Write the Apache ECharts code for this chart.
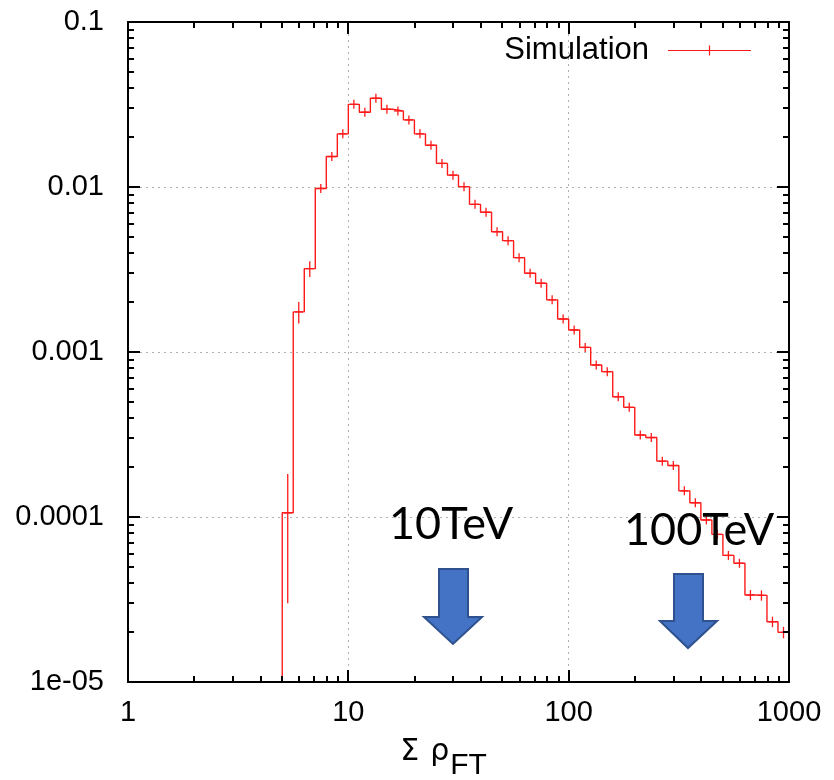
<!DOCTYPE html>
<html>
<head>
<meta charset="utf-8">
<script src="https://cdn.jsdelivr.net/npm/echarts@6/dist/echarts.min.js"></script>
<style>html,body{margin:0;padding:0;background:#fff}#c{width:834px;height:780px}</style>
</head>
<body>
<div id="c"></div>
<script>
// Histogram bin edges (log-spaced, 20 per decade)
const binEdges = [5.012, 5.623, 6.310, 7.079, 7.943, 8.913, 10, 11.22, 12.59, 14.13, 15.85, 17.78,
  19.95, 22.39, 25.12, 28.18, 31.62, 35.48, 39.81, 44.67, 50.12, 56.23, 63.10, 70.79, 79.43, 89.13,
  100, 112.2, 125.9, 141.3, 158.5, 177.8, 199.5, 223.9, 251.2, 281.8, 316.2, 354.8, 398.1, 446.7,
  501.2, 562.3, 631.0, 707.9, 794.3, 891.3, 1000];
// Bin contents
const simValues = [1.06e-4, 1.75e-3, 3.2e-3, 9.8e-3, 0.0153, 0.0210, 0.0317, 0.0284, 0.0345, 0.0296,
  0.0289, 0.0255, 0.0210, 0.0179, 0.0139, 0.0118, 0.01005, 7.85e-3, 7.03e-3, 5.36e-3, 4.73e-3,
  3.73e-3, 3.0e-3, 2.61e-3, 2.07e-3, 1.585e-3, 1.36e-3, 1.066e-3, 8.34e-4, 7.6e-4, 5.36e-4,
  4.62e-4, 3.14e-4, 3.03e-4, 2.18e-4, 2.05e-4, 1.44e-4, 1.22e-4, 9.6e-5, 7.85e-5, 5.85e-5,
  5.24e-5, 3.37e-5, 3.35e-5, 2.32e-5, 2.0e-5];
// Error bars (absolute)
const simErrors = [7.6e-5, 2.6e-4, 3.5e-4, 6e-4, 8e-4, 1e-3, 1.3e-3, 1.2e-3, 1.4e-3, 1.2e-3,
  1.1e-3, 1.0e-3, 8e-4, 7e-4, 5.5e-4, 4.7e-4, 4e-4, 3.1e-4, 2.8e-4, 2.2e-4, 1.9e-4,
  1.5e-4, 1.2e-4, 1.05e-4, 8.5e-5, 6.5e-5, 5.6e-5, 4.5e-5, 3.5e-5, 3.2e-5, 2.3e-5,
  2.0e-5, 1.4e-5, 1.35e-5, 1.0e-5, 9.5e-6, 7e-6, 6e-6, 5e-6, 4.5e-6, 3.5e-6,
  3.0e-6, 2.4e-6, 2.4e-6, 1.7e-6, 1.6e-6];
// Axis tick values
const xTickLabels = ['1', '10', '100', '1000'];
const yTickLabels = ['1e-05', '0.0001', '0.001', '0.01', '0.1'];
const xMajorTicks = [1, 10, 100, 1000];
const xMinorTicks = [2, 3, 4, 5, 6, 7, 8, 9, 20, 30, 40, 50, 60, 70, 80, 90,
  200, 300, 400, 500, 600, 700, 800, 900];
const yMajorTicks = [1e-5, 1e-4, 1e-3, 1e-2, 0.1];
const yMinorTicks = [2e-5, 3e-5, 4e-5, 5e-5, 6e-5, 7e-5, 8e-5, 9e-5,
  2e-4, 3e-4, 4e-4, 5e-4, 6e-4, 7e-4, 8e-4, 9e-4,
  2e-3, 3e-3, 4e-3, 5e-3, 6e-3, 7e-3, 8e-3, 9e-3,
  0.02, 0.03, 0.04, 0.05, 0.06, 0.07, 0.08, 0.09];
const xRange = [1, 1000];
const yRange = [1e-5, 0.1];
const legendName = 'Simulation';
const annotations = ['10TeV', '100TeV'];

// Build step path: start from the bottom at the first edge, then the bin levels
const stepData = [[binEdges[0], yRange[0]]];
for (let i = 0; i < simValues.length; i++) stepData.push([binEdges[i], simValues[i]]);
stepData.push([binEdges[binEdges.length - 1], simValues[simValues.length - 1]]);

const errData = simValues.map((v, i) => [Math.sqrt(binEdges[i] * binEdges[i + 1]), v, simErrors[i]]);

const RED = '#ff1a1a';
const FONT = 'Liberation Sans';

function fmtX(v) {
  const k = Math.round(Math.log10(v));
  return xTickLabels[k] !== undefined ? xTickLabels[k] : '';
}
function fmtY(v) {
  const k = Math.round(Math.log10(v)) + 5;
  return yTickLabels[k] !== undefined ? yTickLabels[k] : '';
}

function axisBase() {
  return {
    type: 'log', logBase: 10,
    axisLine: { show: true, lineStyle: { color: '#000', width: 2 } },
    axisTick: { show: false },
    minorTick: { show: false },
    minorSplitLine: { show: false }
  };
}

const chart = echarts.init(document.getElementById('c'), null, { renderer: 'canvas' });
chart.setOption({
  animation: false,
  backgroundColor: '#fff',
  grid: { left: 128, top: 22, right: 45, bottom: 98, containLabel: false, outerBoundsMode: 'none' },
  xAxis: [
    Object.assign(axisBase(), {
      min: xRange[0], max: xRange[1], position: 'bottom',
      axisLabel: { formatter: fmtX, fontFamily: FONT, fontSize: 29, color: '#000', margin: 16 },
      splitLine: { show: true, lineStyle: { color: '#b0b0b0', type: [2, 4], width: 1 } },
      name: '{a|Σ}{s| }{a|ρ}{b|FT}', nameLocation: 'middle', nameGap: 53,
      nameTextStyle: {
        padding: [0, 30, 0, 0],
        rich: {
          a: { fontFamily: 'DejaVu Sans', fontSize: 30, color: '#000', verticalAlign: 'bottom', lineHeight: 32 },
          s: { fontFamily: FONT, fontSize: 30, color: '#000', verticalAlign: 'bottom', lineHeight: 32, width: 11 },
          b: { fontFamily: FONT, fontSize: 30, color: '#000', verticalAlign: 'bottom', lineHeight: 32, padding: [0, 0, -14, 1] }
        }
      }
    }),
    Object.assign(axisBase(), {
      min: xRange[0], max: xRange[1], position: 'top',
      axisLabel: { show: false }, splitLine: { show: false }
    })
  ],
  yAxis: [
    Object.assign(axisBase(), {
      min: yRange[0], max: yRange[1], position: 'left',
      axisLabel: { formatter: fmtY, fontFamily: FONT, fontSize: 29, color: '#000', margin: 24 },
      splitLine: { show: true, lineStyle: { color: '#b0b0b0', type: [2, 4], width: 1 } }
    }),
    Object.assign(axisBase(), {
      min: yRange[0], max: yRange[1], position: 'right',
      axisLabel: { show: false }, splitLine: { show: false }
    })
  ],
  legend: {
    data: [{ name: legendName, icon: 'path://M0,4.4H83V5.6H0Z M40.9,0H42.1V10H40.9Z' }],
    right: 78, top: 30, align: 'right', orient: 'vertical',
    itemWidth: 83, itemHeight: 10,
    textStyle: { fontFamily: FONT, fontSize: 31, color: '#000', padding: [0, 14, 0, 0] },
    selectedMode: false
  },
  series: [
    {
      type: 'line', name: 'step', step: 'end', data: stepData,
      xAxisIndex: 0, yAxisIndex: 0,
      showSymbol: false, symbol: 'none', clip: true,
      lineStyle: { color: RED, width: 1.4 }, silent: true, z: 3
    },
    {
      type: 'custom', name: legendName, data: errData,
      xAxisIndex: 0, yAxisIndex: 0, clip: true, z: 4,
      itemStyle: { color: RED },
      encode: { x: 0, y: 1 },
      renderItem: function (params, api) {
        const x = api.value(0), y = api.value(1), e = api.value(2);
        const c = api.coord([x, y]);
        const t = api.coord([x, y + e]);
        const b = api.coord([x, Math.max(y - e, 1e-12)]);
        const up = Math.min(t[1], c[1] - 4.5);
        const dn = Math.max(b[1], c[1] + 4.5);
        const st = { stroke: RED, lineWidth: 1.3 };
        return {
          type: 'group', children: [
            { type: 'line', shape: { x1: c[0], y1: up, x2: c[0], y2: dn }, style: st },
            { type: 'line', shape: { x1: c[0] - 4, y1: c[1], x2: c[0] + 4, y2: c[1] }, style: st }
          ]
        };
      }
    }
  ]
});

// Annotations (overlays)
const overlayEls = [
  { type: 'text', id: 'ann0', left: 389, top: 502, z: 10,
    style: { text: annotations[0], font: '45px Lato', fill: '#000' } },
  { type: 'text', id: 'ann1', left: 624, top: 508, z: 10,
    style: { text: annotations[1], font: '45px Lato', fill: '#000' } },
  { type: 'polygon', id: 'arr0', z: 10,
    shape: { points: [[439, 569], [468, 569], [468, 617], [482, 617], [453, 644], [424, 617], [439, 617]] },
    style: { fill: '#4472C4', stroke: '#2F528F', lineWidth: 2 } },
  { type: 'polygon', id: 'arr1', z: 10,
    shape: { points: [[674, 574], [703, 574], [703, 621], [717, 621], [688, 648], [660, 621], [674, 621]] },
    style: { fill: '#4472C4', stroke: '#2F528F', lineWidth: 2 } }
];

// Axis ticks (inside, on all four sides), positioned through the chart's own log scales
const tickEls = [];
const finder = { gridIndex: 0 };
function tickRect(p, dx, dy) {
  const x0 = Math.round(p[0]), y0 = Math.round(p[1]);
  let shape;
  if (dx === 0) {
    shape = { x: x0 - 1, y: dy < 0 ? y0 + dy : y0, width: 2, height: Math.abs(dy) };
  } else {
    shape = { x: dx < 0 ? x0 + dx : x0, y: y0 - 1, width: Math.abs(dx), height: 2 };
  }
  tickEls.push({ type: 'rect', id: 'tk' + tickEls.length, z: 20, silent: true,
    shape: shape, style: { fill: '#000' } });
}
function addXTicks(vals, L) {
  vals.forEach(v => {
    tickRect(chart.convertToPixel(finder, [v, yRange[0]]), 0, -L);
    tickRect(chart.convertToPixel(finder, [v, yRange[1]]), 0, L);
  });
}
function addYTicks(vals, L) {
  vals.forEach(v => {
    tickRect(chart.convertToPixel(finder, [xRange[0], v]), L, 0);
    tickRect(chart.convertToPixel(finder, [xRange[1], v]), -L, 0);
  });
}
addXTicks(xMajorTicks, 12);
addXTicks(xMinorTicks, 6);
addYTicks(yMajorTicks, 12);
addYTicks(yMinorTicks, 6);
chart.setOption({ graphic: overlayEls.concat(tickEls) });
</script>
</body>
</html>
